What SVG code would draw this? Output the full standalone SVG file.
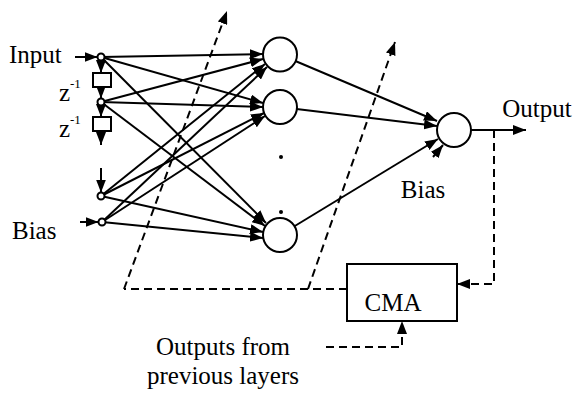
<svg xmlns="http://www.w3.org/2000/svg" width="576" height="394" viewBox="0 0 576 394">
<style>
.ln{stroke:#000;stroke-width:2;fill:none}
.ar{marker-end:url(#ah)}
.ds{stroke-dasharray:8 5}
.nd{fill:#fff;stroke:#000;stroke-width:2}
.t{font-family:"Liberation Serif","Times New Roman",serif;font-size:25px;fill:#000}
.sup{font-family:"Liberation Serif","Times New Roman",serif;font-size:13px;fill:#000}
</style>
<defs>
<marker id="ah" viewBox="0 0 13 10" refX="13" refY="5" markerWidth="13" markerHeight="10" orient="auto" markerUnits="userSpaceOnUse">
<path d="M0,0 L13,5 L0,10 z" fill="#000"/>
</marker>
</defs>
<rect width="576" height="394" fill="#fff"/>
<g id="connectors">
<!-- input to hidden -->
<line class="ln ar" x1="101" y1="57" x2="263" y2="54"/>
<line class="ln ar" x1="101" y1="102" x2="263" y2="59"/>
<line class="ln ar" x1="101" y1="196" x2="265" y2="64"/>
<line class="ln ar" x1="102" y1="222" x2="267" y2="67"/>
<line class="ln ar" x1="101" y1="57" x2="263" y2="103"/>
<line class="ln ar" x1="101" y1="102" x2="263" y2="107"/>
<line class="ln ar" x1="101" y1="196" x2="264" y2="113"/>
<line class="ln ar" x1="102" y1="222" x2="265" y2="116"/>
<line class="ln ar" x1="101" y1="57" x2="266" y2="223"/>
<line class="ln ar" x1="101" y1="102" x2="265" y2="226"/>
<line class="ln ar" x1="101" y1="196" x2="263" y2="232"/>
<line class="ln ar" x1="102" y1="222" x2="263" y2="238"/>
<!-- input column arrows -->
<line class="ln ar" x1="75" y1="57" x2="97.5" y2="57"/>
<line class="ln ar" x1="101" y1="60" x2="101" y2="73"/>
<line class="ln ar" x1="101" y1="87" x2="101" y2="98.5"/>
<line class="ln ar" x1="101" y1="105" x2="101" y2="117"/>
<line class="ln ar" x1="101" y1="131" x2="101" y2="145"/>
<line class="ln ar" x1="101" y1="168" x2="101" y2="192.5"/>
<line class="ln ar" x1="80" y1="222" x2="98.5" y2="222"/>
<!-- hidden to output -->
<line class="ln ar" x1="280" y1="54.5" x2="437" y2="121"/>
<line class="ln ar" x1="280" y1="107" x2="437" y2="126"/>
<line class="ln ar" x1="280" y1="235" x2="438" y2="139"/>
<line class="ln ar" x1="433" y1="157" x2="443" y2="145"/>
<!-- output -->
<line class="ln ar" x1="471" y1="130" x2="526" y2="130"/>
<!-- dashed -->
<polyline class="ln ds ar" points="494,130 494,284 457,284"/>
<polyline class="ln ds" points="347,289 124,289"/>
<line class="ln ds ar" x1="124" y1="289" x2="227" y2="11"/>
<line class="ln ds ar" x1="308" y1="289" x2="395" y2="42"/>
<polyline class="ln ds ar" points="326,347 402,347 402,321"/>
</g>
<g id="input-nodes">
<circle class="nd" cx="101" cy="57" r="3.5"/>
<circle class="nd" cx="101" cy="102" r="3.5"/>
<circle class="nd" cx="101" cy="196" r="3.5"/>
<circle class="nd" cx="102" cy="222" r="3.5"/>
</g>
<g id="delay1">
<rect class="nd" x="93" y="73" width="18" height="14"/>
<text class="t" x="59" y="101">z</text><text class="sup" x="70" y="88">-1</text>
</g>
<g id="delay2">
<rect class="nd" x="93" y="117" width="18" height="14"/>
<text class="t" x="59" y="137">z</text><text class="sup" x="70" y="124">-1</text>
</g>
<g id="hidden1"><circle class="nd" cx="280" cy="54.5" r="17"/></g>
<g id="hidden2"><circle class="nd" cx="280" cy="107" r="17"/></g>
<g id="hidden3"><circle class="nd" cx="280" cy="235" r="17"/></g>
<g id="dots">
<circle cx="281" cy="157" r="2" fill="#000"/>
<circle cx="281" cy="212" r="2" fill="#000"/>
</g>
<g id="output-node"><circle class="nd" cx="454" cy="130" r="17"/></g>
<g id="cma">
<rect class="nd" x="347" y="264" width="110" height="57"/>
<text class="t" x="393" y="311" text-anchor="middle">CMA</text>
</g>
<g id="labels">
<text class="t" x="9" y="63">Input</text>
<text class="t" x="12" y="239">Bias</text>
<text class="t" x="537" y="117" text-anchor="middle">Output</text>
<text class="t" x="423" y="198" text-anchor="middle">Bias</text>
<text class="t" x="223" y="355" text-anchor="middle">Outputs from</text>
<text class="t" x="223" y="384" text-anchor="middle">previous layers</text>
</g>
</svg>
